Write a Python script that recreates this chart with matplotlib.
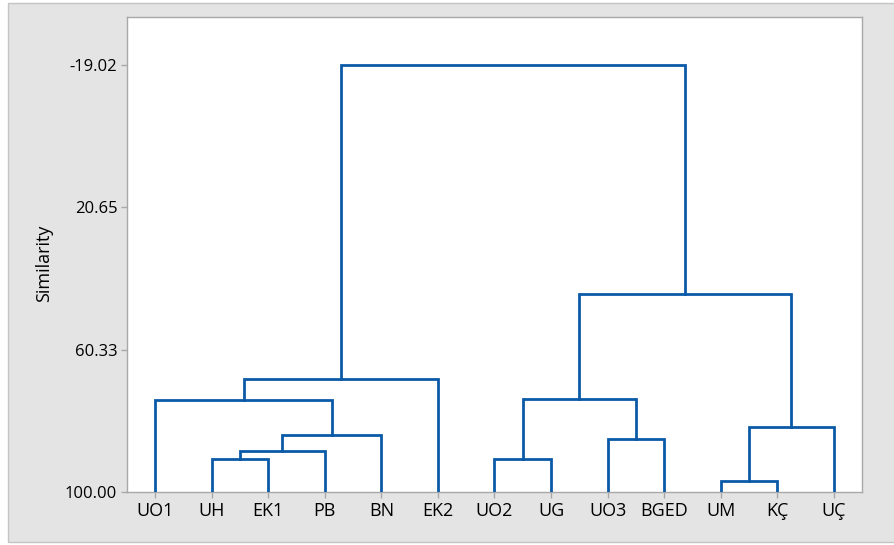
import matplotlib.pyplot as plt
import matplotlib.patches as patches

plt.rcParams['font.family'] = ['Open Sans', 'DejaVu Sans']

# leaves in display order
labels = ['UO1', 'UH', 'EK1', 'PB', 'BN', 'EK2', 'UO2', 'UG', 'UO3', 'BGED', 'UM', 'KÇ', 'UÇ']

# joins: (left node, right node, similarity); new node ids start after the leaves
left_nodes = [1, 13, 14, 0, 16, 6, 8, 18, 10, 21, 20, 17]
right_nodes = [2, 3, 4, 15, 5, 7, 9, 19, 11, 12, 22, 23]
similarity = [90.80, 88.57, 84.10, 74.40, 68.50, 90.80, 85.20, 74.20, 97.00, 81.80, 44.70, -19.02]

yticks = [-19.02, 20.65, 60.33, 100.00]

line_color = '#0a5aa8'

fig = plt.figure(figsize=(8.95, 5.45), dpi=100, facecolor='white')
fig.patches.append(patches.Rectangle((8 / 895, 3 / 545), 1, 539 / 545,
                                     transform=fig.transFigure, facecolor='#e4e4e4',
                                     edgecolor='#c4c4c4', linewidth=1, zorder=-1))

ax = fig.add_axes([127 / 895, 53 / 545, 735 / 895, 475 / 545])
ax.set_facecolor('white')

# node positions: x = leaf index or midpoint of children, y = similarity
xpos = {i: float(i) for i in range(len(labels))}
ypos = {i: 100.0 for i in range(len(labels))}
for k, (a, b, s) in enumerate(zip(left_nodes, right_nodes, similarity)):
    node = len(labels) + k
    ax.plot([xpos[a], xpos[a], xpos[b], xpos[b]], [ypos[a], s, s, ypos[b]],
            color=line_color, linewidth=2.0, solid_joinstyle='miter', zorder=3)
    xpos[node] = (xpos[a] + xpos[b]) / 2
    ypos[node] = s

ax.set_xlim(-0.5, len(labels) - 0.5)
ax.set_ylim(100, -32.4)

ax.set_xticks(range(len(labels)))
ax.set_xticklabels(labels, fontsize=13)
ax.set_yticks(yticks)
ax.set_yticklabels([f'{v:.2f}' for v in yticks], fontsize=12)
ax.tick_params(axis='both', direction='out', length=4, width=1, color='#a8a8a8',
               pad=3, labelcolor='#000000')
ax.set_ylabel('Similarity', fontsize=13, color='#000000')
ax.yaxis.set_label_coords(-0.100, 0.482)

for side in ax.spines.values():
    side.set_color('#a8a8a8')
    side.set_linewidth(1)

fig.savefig('out.png', dpi=100, facecolor=fig.get_facecolor())
